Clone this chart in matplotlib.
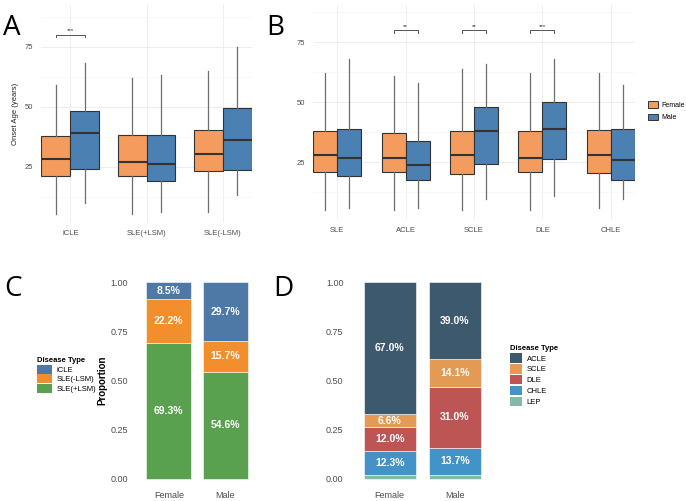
import matplotlib
matplotlib.use("Agg")
import matplotlib.pyplot as plt
from matplotlib.patches import Patch

plt.rcParams["font.family"] = ["Liberation Sans", "DejaVu Sans"]

W, H = 686, 501

# ── Data ─────────────────────────────────────────────────────────────────────
A_groups = ["iCLE", "SLE(+LSM)", "SLE(-LSM)"]
A_f_lo = [5.3, 5.3, 6.3]
A_f_q1 = [21.3, 21.3, 23.2]
A_f_med = [28.2, 27.1, 30.2]
A_f_q3 = [37.8, 38.1, 40.2]
A_f_hi = [59.0, 62.1, 65.0]
A_m_lo = [10.1, 6.3, 13.2]
A_m_q1 = [24.0, 19.0, 23.8]
A_m_med = [39.2, 26.1, 36.1]
A_m_q3 = [48.2, 38.1, 49.6]
A_m_hi = [68.3, 63.2, 75.0]
A_sig = ["***", "", ""]

B_groups = ["SLE", "ACLE", "SCLE", "DLE", "CHLE"]
B_f_lo = [5.0, 5.0, 5.0, 5.0, 6.0]
B_f_q1 = [20.8, 20.8, 20.0, 20.8, 20.5]
B_f_med = [28.0, 27.0, 28.0, 27.0, 28.0]
B_f_q3 = [38.0, 37.0, 38.0, 38.0, 38.3]
B_f_hi = [62.0, 61.0, 64.0, 62.0, 62.0]
B_m_lo = [6.0, 6.0, 9.7, 10.8, 9.7]
B_m_q1 = [19.4, 17.8, 24.4, 26.4, 17.8]
B_m_med = [27.0, 24.0, 38.0, 39.0, 26.0]
B_m_q3 = [39.0, 34.0, 48.0, 50.0, 39.0]
B_m_hi = [68.0, 58.0, 66.0, 68.0, 57.0]
B_sig = ["", "**", "**", "***", ""]

sexes = ["Female", "Male"]

C_types = ["SLE(+LSM)", "SLE(-LSM)", "iCLE"]          # stacking order, bottom up
C_female = [69.3, 22.2, 8.5]
C_male = [54.6, 15.7, 29.7]

D_types = ["LEP", "CHLE", "DLE", "SCLE", "ACLE"]       # stacking order, bottom up
D_female = [2.1, 12.3, 12.0, 6.6, 67.0]
D_male = [2.2, 13.7, 31.0, 14.1, 39.0]

# ── Colours ──────────────────────────────────────────────────────────────────
FEMALE = "#F49C5E"
MALE = "#4A80B2"
C_COLORS = {"iCLE": "#4E79A7", "SLE(-LSM)": "#F28E2B", "SLE(+LSM)": "#59A14F"}
D_COLORS = {"ACLE": "#3D596E", "SCLE": "#E39A55", "DLE": "#BE5555",
            "CHLE": "#4393C8", "LEP": "#86B9A1"}
TICK = "#4D4D4D"
GRID = "#EBEBEB"


def add_axes_px(left, top, right, bottom):
    return fig.add_axes([left / W, 1 - bottom / H, (right - left) / W, (bottom - top) / H])


def fig_text(x, y, s, **kw):
    fig.text(x / W, 1 - y / H, s, **kw)


def stats(lo, q1, med, q3, hi):
    return [dict(whislo=a, q1=b, med=c, q3=d, whishi=e, fliers=[])
            for a, b, c, d, e in zip(lo, q1, med, q3, hi)]


def box_panel(ax, groups, f, m, sig, width, ylim):
    n = len(groups)
    for vals, off, col in [(f, -width / 2, FEMALE), (m, width / 2, MALE)]:
        pos = [i + 1 + off for i in range(n)]
        ax.bxp(stats(*vals), positions=pos, widths=width, patch_artist=True,
               showcaps=False, showfliers=False,
               boxprops=dict(facecolor=col, edgecolor="#333333", linewidth=0.8),
               medianprops=dict(color="#333333", linewidth=1.5),
               whiskerprops=dict(color="#6E6E6E", linewidth=0.9))
    for i, s in enumerate(sig):
        if s:
            x0, x1 = i + 1 - width / 2, i + 1 + width / 2
            ax.plot([x0, x0, x1, x1], [79, 80, 80, 79], color="#555555", lw=0.7)
            ax.text(i + 1, 80.6, s, ha="center", va="bottom", fontsize=4.5, color="#333333")
    ax.set_xlim(1 - 2 * width / 2 - 0.005, n + width + 0.005)
    ax.set_ylim(*ylim)
    ax.set_xticks(range(1, n + 1))
    ax.set_xticklabels(groups)
    ax.set_yticks([25, 50, 75])
    ax.set_yticks([12.5, 37.5, 62.5, 87.5], minor=True)
    ax.grid(True, which="major", color=GRID, lw=0.6)
    ax.grid(True, which="minor", axis="y", color="#F3F3F3", lw=0.4)
    ax.set_axisbelow(True)
    for sp in ax.spines.values():
        sp.set_visible(False)
    ax.tick_params(which="both", length=0, labelsize=5.5, colors=TICK, pad=6)


def stack_panel(ax, types, f, m, colors):
    bottoms = [0.0, 0.0]
    for t, fv, mv in zip(types, f, m):
        h = [fv / 100, mv / 100]
        ax.bar([1, 2], h, width=0.8, bottom=bottoms, color=colors[t],
               edgecolor="white", linewidth=0.4)
        for k in range(2):
            if h[k] * 100 >= 5:
                ax.text(k + 1, bottoms[k] + h[k] / 2, f"{h[k] * 100:.1f}%",
                        ha="center", va="center", color="white",
                        fontsize=7.5, fontweight="bold")
        bottoms = [bottoms[0] + h[0], bottoms[1] + h[1]]
    ax.set_xlim(0.4, 2.6)
    ax.set_ylim(-0.05, 1.05)
    ax.set_xticks([1, 2])
    ax.set_xticklabels(sexes)
    ax.set_yticks([0, 0.25, 0.5, 0.75, 1.0])
    ax.set_yticklabels(["0.00", "0.25", "0.50", "0.75", "1.00"])
    for sp in ax.spines.values():
        sp.set_visible(False)
    ax.tick_params(axis="y", length=0, labelsize=6.5, colors=TICK, pad=5)
    ax.tick_params(axis="x", length=0, labelsize=6.5, colors=TICK, pad=1.5)


fig = plt.figure(figsize=(W / 100, H / 100), dpi=100)

# ── Panel A ──────────────────────────────────────────────────────────────────
axA = add_axes_px(41, 5, 252, 222)
box_panel(axA, A_groups,
          (A_f_lo, A_f_q1, A_f_med, A_f_q3, A_f_hi),
          (A_m_lo, A_m_q1, A_m_med, A_m_q3, A_m_hi),
          A_sig, 0.38, (2.0, 92.4))
axA.set_ylabel("Onset Age (years)", fontsize=5.5, color="#222222", labelpad=4)

# ── Panel B ──────────────────────────────────────────────────────────────────
axB = add_axes_px(313, 5, 635, 219)
box_panel(axB, B_groups,
          (B_f_lo, B_f_q1, B_f_med, B_f_q3, B_f_hi),
          (B_m_lo, B_m_q1, B_m_med, B_m_q3, B_m_hi),
          B_sig, 0.35, (1.4, 90.5))
handles = [Patch(facecolor=FEMALE, edgecolor="#333333", lw=0.7),
           Patch(facecolor=MALE, edgecolor="#333333", lw=0.7)]
fig.legend(handles, sexes, loc="upper left", bbox_to_anchor=(645 / W, 1 - 98 / H),
           frameon=False, fontsize=5, handlelength=1.3, handleheight=1.0,
           labelspacing=0.7, handletextpad=0.5, borderpad=0)

# ── Panel C ──────────────────────────────────────────────────────────────────
axC = add_axes_px(135, 272.5, 259, 488.8)
stack_panel(axC, C_types, C_female, C_male, C_COLORS)
axC.set_ylabel("Proportion", fontsize=7, fontweight="bold", labelpad=2)
c_order = ["iCLE", "SLE(-LSM)", "SLE(+LSM)"]
fig.legend([Patch(facecolor=C_COLORS[t]) for t in c_order], c_order,
           title="Disease Type", loc="upper left", bbox_to_anchor=(33 / W, 1 - 353 / H),
           frameon=False, fontsize=5.5, title_fontproperties=dict(size=5.5, weight="bold"),
           handlelength=2.0, handleheight=1.45, labelspacing=0.1, handletextpad=0.6,
           borderpad=0, alignment="left")

# ── Panel D ──────────────────────────────────────────────────────────────────
axD = add_axes_px(350.5, 272.5, 494, 488.8)
stack_panel(axD, D_types, D_female, D_male, D_COLORS)
d_order = ["ACLE", "SCLE", "DLE", "CHLE", "LEP"]
fig.legend([Patch(facecolor=D_COLORS[t]) for t in d_order], d_order,
           title="Disease Type", loc="upper left", bbox_to_anchor=(506 / W, 1 - 341 / H),
           frameon=False, fontsize=5.5, title_fontproperties=dict(size=5.5, weight="bold"),
           handlelength=1.6, handleheight=1.5, labelspacing=0.2, handletextpad=0.6,
           borderpad=0, alignment="left")

# ── Panel letters ────────────────────────────────────────────────────────────
for x, y, s in [(3, 35, "A"), (266, 35, "B"), (4, 296, "C"), (273, 296, "D")]:
    fig_text(x, y, s, fontsize=20, va="baseline", ha="left",
             family=["Open Sans", "DejaVu Sans"])

fig.savefig("out.png", dpi=100, facecolor="white")
